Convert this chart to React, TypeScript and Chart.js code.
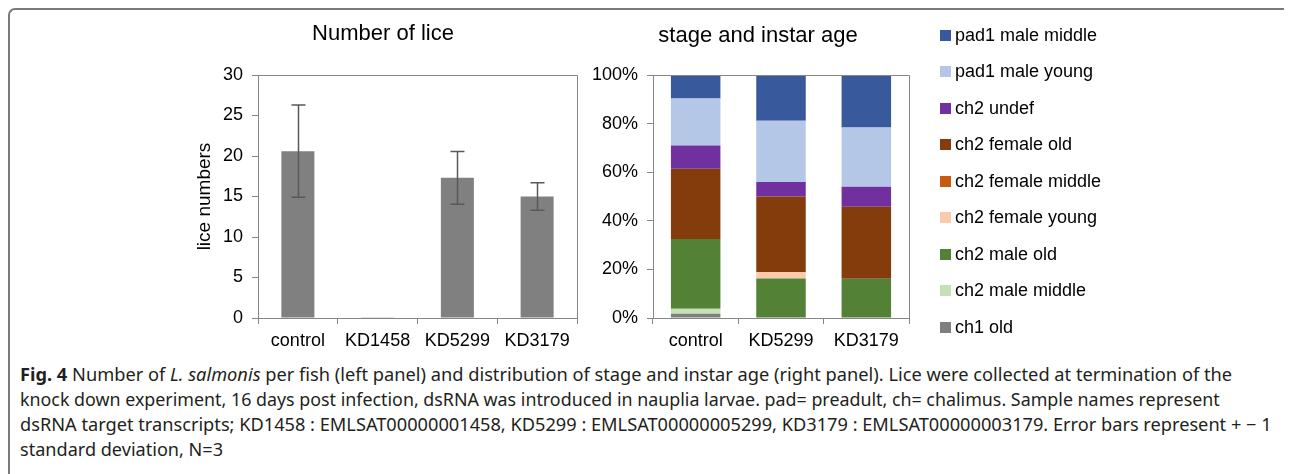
import { useEffect, useLayoutEffect, useRef } from "react";
import { Chart, registerables } from "chart.js";

Chart.register(...registerables);

// ---------- data: left panel ----------
const liceCategories = ["control", "KD1458", "KD5299", "KD3179"];
const liceMeans = [20.6, 0.1, 17.3, 15.0];
const liceSD = [5.7, 0, 3.25, 1.7];
const liceTicks = [0, 5, 10, 15, 20, 25, 30];

// ---------- data: right panel (percent of lice) ----------
const stageCategories = ["control", "KD5299", "KD3179"];
const stageLabels = [
  "ch1 old",
  "ch2 male middle",
  "ch2 male old",
  "ch2 female young",
  "ch2 female middle",
  "ch2 female old",
  "ch2 undef",
  "pad1 male young",
  "pad1 male middle",
];
const ch1Old = [1.8, 0, 0];
const ch2MaleMiddle = [2.0, 0, 0];
const ch2MaleOld = [28.7, 16.3, 16.2];
const ch2FemaleYoung = [0, 2.5, 0];
const ch2FemaleMiddle = [0, 0, 0];
const ch2FemaleOld = [28.9, 31.2, 29.6];
const ch2Undef = [9.6, 6.0, 8.2];
const pad1MaleYoung = [19.3, 25.2, 24.4];
const pad1MaleMiddle = [9.7, 18.8, 21.6];
const percentTicks = [0, 20, 40, 60, 80, 100];

const stageSeries = [
  ch1Old,
  ch2MaleMiddle,
  ch2MaleOld,
  ch2FemaleYoung,
  ch2FemaleMiddle,
  ch2FemaleOld,
  ch2Undef,
  pad1MaleYoung,
  pad1MaleMiddle,
];
const stageColors = [
  "#7f7f7f",
  "#c5e0b4",
  "#538135",
  "#f8cbad",
  "#c55a11",
  "#843c0c",
  "#7030a0",
  "#b4c7e7",
  "#38599c",
];

const AXIS = "#868686";
const FONT = "'Liberation Sans', Arial, Helvetica, sans-serif";

Chart.defaults.font.family = FONT;
Chart.defaults.color = "#000";

const alignPx = (v: number) => Math.round(v - 0.5) + 0.5;

const framePlugin = {
  id: "frame",
  afterDraw(chart: any, _args: any, opts: any) {
    const { ctx, chartArea } = chart;
    const l = alignPx(chartArea.left);
    const r = alignPx(chartArea.right);
    const t = alignPx(chartArea.top);
    const b = alignPx(chartArea.bottom);
    ctx.save();
    ctx.strokeStyle = opts.color || AXIS;
    ctx.lineWidth = 1;
    ctx.beginPath();
    ctx.moveTo(l, t);
    ctx.lineTo(r, t);
    ctx.lineTo(r, b);
    ctx.stroke();
    ctx.restore();
  },
};

const panelTitlePlugin = {
  id: "panelTitle",
  afterDraw(chart: any, _args: any, o: any) {
    const { ctx } = chart;
    ctx.save();
    ctx.font = `${o.fontSize}px ${FONT}`;
    ctx.fillStyle = o.color;
    ctx.textAlign = "center";
    ctx.textBaseline = "middle";
    ctx.fillText(o.text, o.x, o.y);
    ctx.restore();
  },
};

const errorBarPlugin = {
  id: "errorBars",
  afterDatasetsDraw(chart: any, _args: any, opts: any) {
    const { ctx } = chart;
    const meta = chart.getDatasetMeta(0);
    const yScale = chart.scales.y;
    const sd: number[] = opts.sd || [];
    ctx.save();
    ctx.strokeStyle = opts.color;
    ctx.lineWidth = opts.width;
    meta.data.forEach((bar: any, i: number) => {
      const v = chart.data.datasets[0].data[i];
      const e = sd[i];
      if (!e) return;
      const x = Math.round(bar.x) + 0.5;
      const yHi = yScale.getPixelForValue(v + e);
      const yLo = yScale.getPixelForValue(v - e);
      const half = opts.cap / 2;
      ctx.beginPath();
      ctx.moveTo(x, yHi);
      ctx.lineTo(x, yLo);
      ctx.moveTo(x - half, yHi);
      ctx.lineTo(x + half, yHi);
      ctx.moveTo(x - half, yLo);
      ctx.lineTo(x + half, yLo);
      ctx.stroke();
    });
    ctx.restore();
  },
};

const sideLegendPlugin = {
  id: "sideLegend",
  afterDraw(chart: any, _args: any, o: any) {
    const { ctx } = chart;
    const ds = chart.data.datasets.slice().reverse();
    ctx.save();
    ctx.font = `${o.fontSize}px ${FONT}`;
    ctx.textBaseline = "middle";
    ctx.textAlign = "left";
    ds.forEach((d: any, i: number) => {
      const cy = o.y + i * o.spacing;
      ctx.fillStyle = d.backgroundColor;
      ctx.fillRect(o.x, Math.round(cy - o.box / 2), o.box, o.box);
      ctx.fillStyle = o.color;
      ctx.fillText(d.label, o.x + o.box + o.gap, cy + 1);
    });
    ctx.restore();
  },
};

function LiceChart() {
  const ref = useRef<HTMLCanvasElement | null>(null);
  useEffect(() => {
    if (!ref.current) return;
    const chart = new Chart(ref.current, {
      type: "bar",
      data: {
        labels: liceCategories,
        datasets: [
          {
            label: "lice numbers",
            data: liceMeans,
            backgroundColor: "#808080",
            barPercentage: 0.414,
            categoryPercentage: 1,
          },
        ],
      },
      options: {
        animation: false,
        responsive: false,
        events: [],
        layout: { padding: { left: 0, right: 9, top: 65, bottom: 0 } },
        plugins: {
          legend: { display: false },
          tooltip: { enabled: false },
          title: { display: false },
          panelTitle: { text: "Number of lice", x: 203, y: 24, fontSize: 22, color: "#000" },
          frame: { color: AXIS },
          errorBars: { sd: liceSD, color: "#595959", width: 1.5, cap: 14 },
        } as any,
        scales: {
          x: {
            grid: { drawOnChartArea: false, color: AXIS, tickLength: 6 },
            border: { color: AXIS },
            ticks: { font: { size: 18 }, color: "#000", padding: 6, maxRotation: 0, autoSkip: false },
            afterFit: (s: any) => {
              s.height = 34;
            },
          },
          y: {
            min: 0,
            max: 30,
            afterBuildTicks: (s: any) => {
              s.ticks = liceTicks.map((v) => ({ value: v }));
            },
            grid: { drawOnChartArea: false, color: AXIS, tickLength: 6 },
            border: { color: AXIS },
            ticks: { font: { size: 18 }, color: "#000", padding: 9 },
            title: {
              display: true,
              text: "lice numbers",
              color: "#000",
              font: { size: 19 },
              padding: { top: 13.6, bottom: 0 },
            },
            afterFit: (s: any) => {
              s.width = 78;
            },
          },
        },
      } as any,
      plugins: [framePlugin, errorBarPlugin, panelTitlePlugin],
    });
    return () => chart.destroy();
  }, []);
  return <canvas ref={ref} width={406} height={342} style={{ position: "absolute", left: 172, top: 2 }} />;
}

function StageChart() {
  const ref = useRef<HTMLCanvasElement | null>(null);
  useEffect(() => {
    if (!ref.current) return;
    const chart = new Chart(ref.current, {
      type: "bar",
      data: {
        labels: stageCategories,
        datasets: stageLabels.map((label, i) => ({
          label,
          data: stageSeries[i],
          backgroundColor: stageColors[i],
          barPercentage: 0.58,
          categoryPercentage: 1,
        })),
      },
      options: {
        animation: false,
        responsive: false,
        events: [],
        layout: { padding: { left: 0, right: 241, top: 65, bottom: 0 } },
        plugins: {
          legend: { display: false },
          tooltip: { enabled: false },
          title: { display: false },
          panelTitle: { text: "stage and instar age", x: 170, y: 26, fontSize: 22, color: "#000" },
          frame: { color: AXIS },
          sideLegend: { x: 352, y: 25, spacing: 36.5, box: 11, gap: 4, fontSize: 18, color: "#000" },
        } as any,
        scales: {
          x: {
            stacked: true,
            grid: { drawOnChartArea: false, color: AXIS, tickLength: 6 },
            border: { color: AXIS },
            ticks: { font: { size: 18 }, color: "#000", padding: 6, maxRotation: 0, autoSkip: false },
            afterFit: (s: any) => {
              s.height = 34;
            },
          },
          y: {
            stacked: true,
            min: 0,
            max: 100,
            afterBuildTicks: (s: any) => {
              s.ticks = percentTicks.map((v) => ({ value: v }));
            },
            grid: { drawOnChartArea: false, color: AXIS, tickLength: 6 },
            border: { color: AXIS },
            ticks: { font: { size: 18 }, color: "#000", padding: 9, callback: (v: any) => `${v}%` },
            afterFit: (s: any) => {
              s.width = 65;
            },
          },
        },
      } as any,
      plugins: [framePlugin, sideLegendPlugin, panelTitlePlugin],
    });
    return () => chart.destroy();
  }, []);
  return <canvas ref={ref} width={562} height={342} style={{ position: "absolute", left: 580, top: 2 }} />;
}

const captionTargets = [1212, 1200, 1252, 0];
const captionCenters = [374, 399, 424, 449];

export default function App() {
  const lineRefs = useRef<(HTMLSpanElement | null)[]>([]);

  useLayoutEffect(() => {
    document.documentElement.style.overflow = "hidden";
    document.body.style.overflow = "hidden";
    const fit = () => {
      const els = lineRefs.current;
      const base: number[] = [];
      els.forEach((el, i) => {
        if (!el) return;
        el.style.transform = "none";
        base[i] = el.offsetWidth;
      });
      const scales = els.map((el, i) => (el && captionTargets[i] ? captionTargets[i] / base[i] : 0));
      const valid = scales.filter((s) => s > 0);
      const avg = valid.reduce((a, b) => a + b, 0) / (valid.length || 1);
      els.forEach((el, i) => {
        if (!el) return;
        const s = scales[i] || avg;
        el.style.transform = `scaleX(${s})`;
      });
    };
    fit();
    if ((document as any).fonts && (document as any).fonts.ready) {
      (document as any).fonts.ready.then(fit);
    }
  }, []);

  const lines = [
    <>
      <b>Fig. 4</b> Number of <i>L. salmonis</i> per fish (left panel) and distribution of stage and instar age
      (right panel). Lice were collected at termination of the
    </>,
    <>
      knock down experiment, 16 days post infection, dsRNA was introduced in nauplia larvae. pad= preadult, ch=
      chalimus. Sample names represent
    </>,
    <>
      dsRNA target transcripts; KD1458 : EMLSAT00000001458, KD5299 : EMLSAT00000005299, KD3179 :
      EMLSAT00000003179. Error bars represent + − 1
    </>,
    <>standard deviation, N=3</>,
  ];

  return (
    <div style={{ position: "relative", width: 1284, height: 466, overflow: "hidden", background: "#fff" }}>
      <div
        style={{
          position: "absolute",
          left: 0,
          top: 0,
          width: 1320,
          height: 520,
          borderTop: "2px solid #7a7a7a",
          borderLeft: "2px solid #7a7a7a",
          borderTopLeftRadius: 7,
          boxSizing: "border-box",
        }}
      />
      <LiceChart />
      <StageChart />
      {lines.map((content, i) => (
        <span
          key={i}
          ref={(el) => {
            lineRefs.current[i] = el;
          }}
          style={{
            position: "absolute",
            left: 12,
            top: captionCenters[i] - 8 - 12.5,
            height: 25,
            lineHeight: "25px",
            whiteSpace: "nowrap",
            fontFamily: "'Noto Sans', 'Open Sans', sans-serif",
            fontSize: 17.5,
            color: "#231f20",
            transformOrigin: "left center",
            display: "inline-block",
          }}
        >
          {content}
        </span>
      ))}
    </div>
  );
}
